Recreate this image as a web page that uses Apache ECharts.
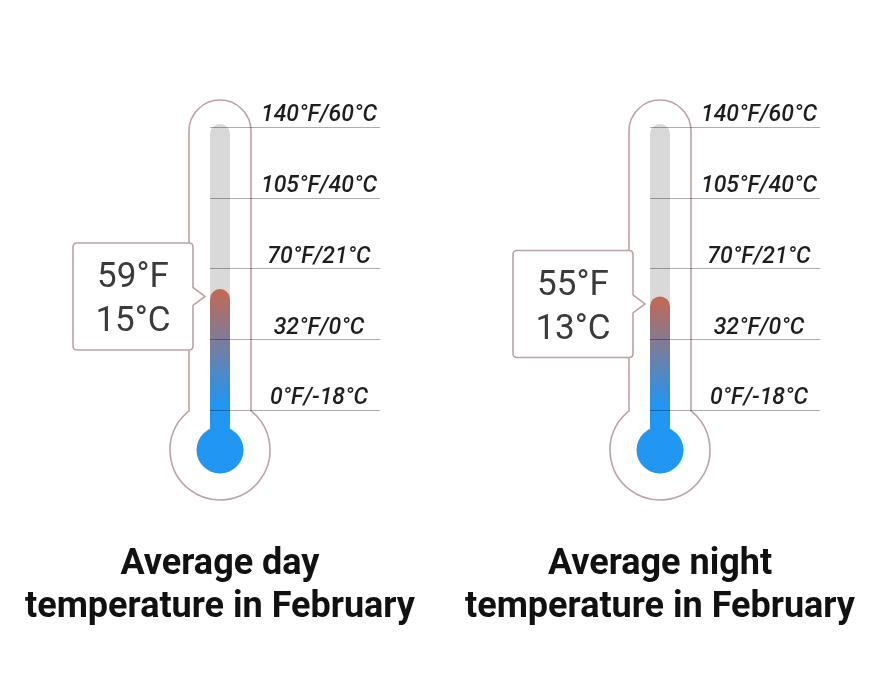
<!DOCTYPE html>
<html>
<head>
<meta charset="utf-8">
<script src="https://cdn.jsdelivr.net/npm/echarts@6/dist/echarts.min.js"></script>
<style>
  html, body { margin: 0; padding: 0; background: #fff; }
  #chart { width: 880px; height: 680px; }
</style>
</head>
<body>
<div id="chart"></div>
<script>
// captions under each thermometer
const titles = ['Average day\ntemperature in February', 'Average night\ntemperature in February'];
// readings
const tempF = [59, 55];
const tempC = [15, 13];
// scale marks, drawn evenly spaced along the tube
const tickF = [0, 32, 70, 105, 140];
const tickLabels = ['0°F/-18°C', '32°F/0°C', '70°F/21°C', '105°F/40°C', '140°F/60°C'];

// map a °F reading onto the evenly spaced tick scale (0..4)
function toScale(f) {
  for (let i = 0; i < tickF.length - 1; i++) {
    if (f <= tickF[i + 1]) {
      return i + (f - tickF[i]) / (tickF[i + 1] - tickF[i]);
    }
  }
  return tickF.length - 1;
}

const centers = [220, 660];
const OUTLINE = '#bba5a4';
const BLUE = '#2196f3';
const RED = '#c56851';

const chart = echarts.init(document.getElementById('chart'));

function renderThermo(params, api) {
  const k = api.value(2);
  const top = api.coord([0, tickF.length - 1]);
  const zero = api.coord([0, 0]);
  const lvl = api.coord([0, api.value(1)]);
  const cx = zero[0];
  const yTop = top[1], y0 = zero[1], yv = lvl[1];

  const half = 31, bulbR = 50;
  const bulbY = y0 + 40;
  const arcY = yTop + 4;
  const joinY = bulbY - Math.sqrt(bulbR * bulbR - half * half);

  const outline = 'M' + (cx - half) + ',' + joinY +
    ' L' + (cx - half) + ',' + arcY +
    ' A' + half + ',' + half + ' 0 0 1 ' + (cx + half) + ',' + arcY +
    ' L' + (cx + half) + ',' + joinY +
    ' A' + bulbR + ',' + bulbR + ' 0 1 1 ' + (cx - half) + ',' + joinY + ' Z';

  // callout box with a small pointer towards the column
  const boxR = cx - 27, boxL = boxR - 120;
  const cy = yv + 7.5;
  const boxT = cy - 53.5, boxB = cy + 53.5;
  const tip = cx - 15, r = 4, ah = 9;
  const box = 'M' + (boxL + r) + ',' + boxT +
    ' L' + (boxR - r) + ',' + boxT +
    ' Q' + boxR + ',' + boxT + ' ' + boxR + ',' + (boxT + r) +
    ' L' + boxR + ',' + (cy - ah) +
    ' L' + tip + ',' + cy +
    ' L' + boxR + ',' + (cy + ah) +
    ' L' + boxR + ',' + (boxB - r) +
    ' Q' + boxR + ',' + boxB + ' ' + (boxR - r) + ',' + boxB +
    ' L' + (boxL + r) + ',' + boxB +
    ' Q' + boxL + ',' + boxB + ' ' + boxL + ',' + (boxB - r) +
    ' L' + boxL + ',' + (boxT + r) +
    ' Q' + boxL + ',' + boxT + ' ' + (boxL + r) + ',' + boxT + ' Z';

  return {
    type: 'group',
    children: [
      {
        type: 'path',
        shape: { pathData: outline },
        style: { fill: '#fff', stroke: OUTLINE, lineWidth: 1.6 }
      },
      {
        type: 'rect',
        shape: { x: cx - 10, y: yTop - 3, width: 20, height: bulbY - yTop + 3, r: [10, 10, 0, 0] },
        style: { fill: '#d9d9d9' }
      },
      {
        type: 'rect',
        shape: { x: cx - 10, y: yv, width: 20, height: bulbY - yv, r: [10, 10, 0, 0] },
        style: {
          fill: {
            type: 'linear', x: 0, y: 0, x2: 0, y2: 1,
            colorStops: [
              { offset: 0, color: RED },
              { offset: 0.72, color: BLUE },
              { offset: 1, color: BLUE }
            ]
          }
        }
      },
      {
        type: 'circle',
        shape: { cx: cx, cy: bulbY, r: 23.5 },
        style: { fill: BLUE }
      },
      {
        type: 'path',
        shape: { pathData: box },
        style: { fill: '#fff', stroke: OUTLINE, lineWidth: 1.6 }
      },
      {
        type: 'text',
        style: {
          text: tempF[k] + '°F\n' + tempC[k] + '°C',
          x: (boxL + boxR) / 2,
          y: cy + 4,
          align: 'center',
          verticalAlign: 'middle',
          fill: '#3b3b3b',
          fontSize: 35,
          fontFamily: 'Roboto',
          lineHeight: 44
        }
      }
    ]
  };
}

const grid = [], xAxis = [], yAxis = [], series = [], title = [];

centers.forEach(function (c, i) {
  // narrow grid holding the column
  grid.push({ left: c - 10, width: 20, top: 127, height: 283 });
  // wide grid holding the scale lines and labels
  grid.push({ left: c - 10, width: 170, top: 127, height: 283 });

  xAxis.push({ type: 'category', gridIndex: 2 * i, data: [titles[i]], show: false });
  xAxis.push({ type: 'value', gridIndex: 2 * i + 1, min: 0, max: 1, show: false });

  yAxis.push({ type: 'value', gridIndex: 2 * i, min: 0, max: tickF.length - 1, show: false });
  yAxis.push({
    type: 'value',
    gridIndex: 2 * i + 1,
    min: 0,
    max: tickF.length - 1,
    interval: 1,
    position: 'right',
    z: 10,
    axisLine: { show: false },
    axisTick: { show: false },
    splitLine: { show: true, lineStyle: { color: 'rgba(0,0,0,0.32)', width: 1 } },
    axisLabel: {
      inside: true,
      align: 'center',
      verticalAlign: 'bottom',
      margin: 61,
      formatter: function (v) { return tickLabels[v]; },
      fontFamily: 'Roboto',
      fontStyle: 'italic',
      fontWeight: 500,
      fontSize: 23,
      color: '#1e1e1e'
    }
  });

  series.push({
    type: 'custom',
    xAxisIndex: 2 * i,
    yAxisIndex: 2 * i,
    clip: false,
    z: 2,
    data: [[0, toScale(tempF[i]), i]],
    renderItem: renderThermo
  });

  title.push({
    text: titles[i],
    left: c - 5,
    top: 538,
    textAlign: 'center',
    textStyle: {
      fontFamily: 'Roboto',
      fontSize: 36,
      fontWeight: 'bold',
      color: '#111',
      lineHeight: 43
    }
  });
});

chart.setOption({
  animation: false,
  textStyle: { fontFamily: 'Roboto' },
  title: title,
  grid: grid,
  xAxis: xAxis,
  yAxis: yAxis,
  series: series
});
</script>
</body>
</html>
